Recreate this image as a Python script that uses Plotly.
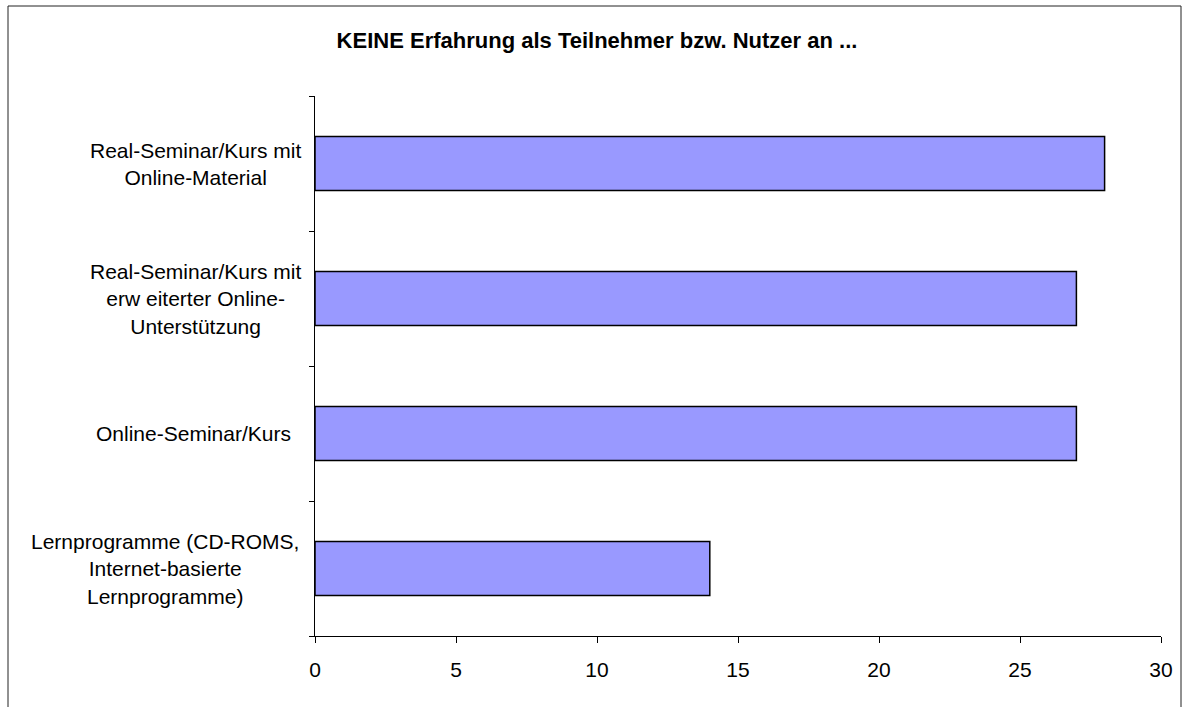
import plotly.graph_objects as go

# Data (bottom to top as displayed)
categories = [
    "Lernprogramme (CD-ROMS,<br>Internet-basierte<br>Lernprogramme)",
    "Online-Seminar/Kurs",
    "Real-Seminar/Kurs mit<br>erw eiterter Online-<br>Unterstützung",
    "Real-Seminar/Kurs mit<br>Online-Material",
]
values = [14, 27, 27, 28]
x_ticks = [0, 5, 10, 15, 20, 25, 30]
title_text = "KEINE Erfahrung als Teilnehmer bzw. Nutzer an ..."

# Layout-only: horizontal centre (px) of each category label
label_center_px = [165, 193, 195, 195]

W, H = 1190, 707
L, R, T, B = 315, 29, 96, 71
pw, ph = W - L - R, H - T - B

fig = go.Figure()
fig.add_trace(go.Bar(
    x=values, y=categories, orientation="h",
    marker=dict(color="#9999FF", line=dict(color="black", width=1.5)),
    hoverinfo="x+y",
))

font = "Liberation Sans, Arial, sans-serif"

fig.update_layout(
    width=W, height=H,
    margin=dict(l=L, r=R, t=T, b=B, autoexpand=False),
    paper_bgcolor="white", plot_bgcolor="white",
    bargap=0.6,
    showlegend=False,
    title=dict(text="<b>" + title_text + "</b>", x=597 / W, xref="container",
               xanchor="center", y=1 - 40 / H, yref="container", yanchor="middle",
               font=dict(family=font, size=22, color="black")),
    xaxis=dict(range=[0, 30], tickvals=x_ticks, ticks="outside", ticklen=6,
               tickcolor="black", showline=True, linecolor="black", linewidth=1,
               showgrid=False, zeroline=False, ticklabelstandoff=9,
               tickfont=dict(family=font, size=21, color="black"), fixedrange=True),
    yaxis=dict(type="category", categoryorder="array", categoryarray=categories,
               tickson="boundaries", ticks="outside", ticklen=5, tickcolor="black",
               showline=True, linecolor="black", linewidth=1, showgrid=False,
               showticklabels=False, fixedrange=True),
)

# Category labels, centered lines like the original
for c, cx in zip(categories, label_center_px):
    fig.add_annotation(x=(cx - L) / pw, xref="paper", y=c, yref="y",
                       text=c, showarrow=False, xanchor="center", yanchor="middle",
                       align="center",
                       font=dict(family=font, size=21, color="black"))

# Outer chart border
fig.add_shape(type="rect", xref="paper", yref="paper",
              x0=(8 - L) / pw, x1=(1181 - L) / pw,
              y0=-0.5, y1=(H - B - 6) / ph,
              line=dict(color="#222222", width=1), fillcolor="rgba(0,0,0,0)",
              layer="below")

fig.write_html("out.html", config={"displayModeBar": False},
               post_script="document.body.style.margin='0px';")
